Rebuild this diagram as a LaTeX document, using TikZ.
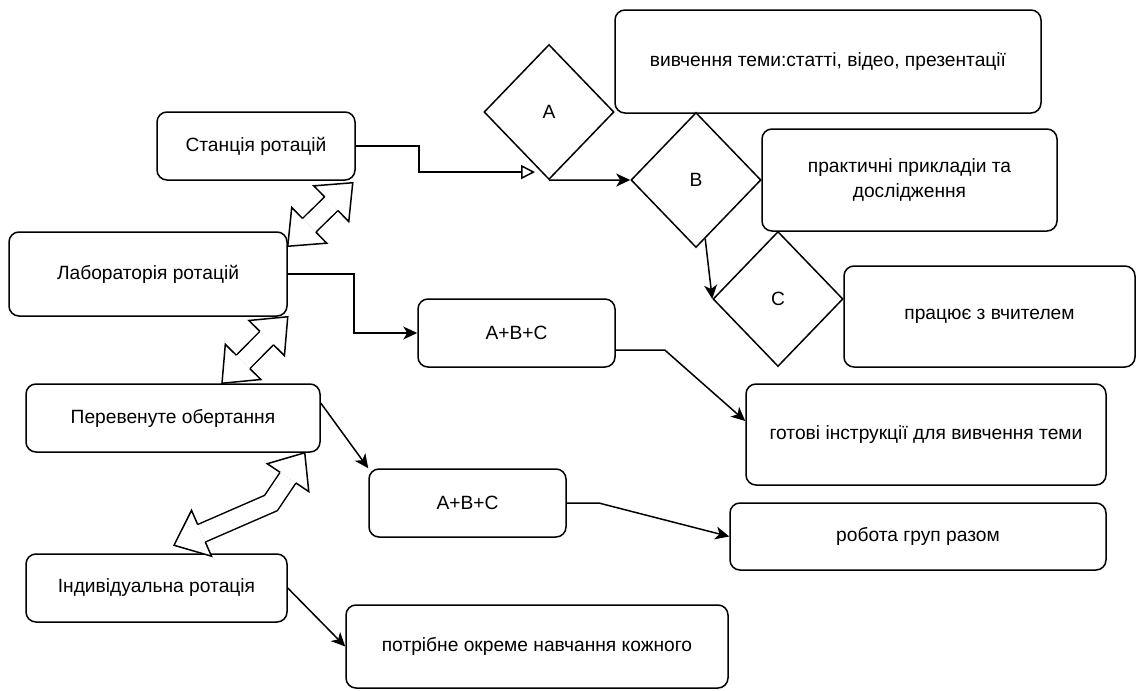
\documentclass[tikz,border=0pt]{standalone}
\usepackage{fontspec}
\setmainfont{Liberation Sans}
\usetikzlibrary{shapes.geometric,arrows.meta,calc}

\tikzset{
  box/.style={draw,rounded corners=5pt,align=center,inner sep=2pt},
  rhomb/.style={draw,diamond,inner sep=0pt,minimum width=65pt,minimum height=67.5pt},
  link/.style={-{Stealth[length=7pt,width=6.5pt,inset=2pt]}},
  hollowlink/.style={-{Triangle[open,length=7pt,width=7pt]}},
  twinshaft/.style={double,double distance=8.75pt},
}

% hollow two-headed arrow: tip, middle point, tip
\newcommand{\twinarrow}[3]{%
  \coordinate (ta) at ($(#1)!15pt!(#2)$);
  \coordinate (tb) at ($(#3)!15pt!(#2)$);
  \draw[twinshaft] (ta) -- (#2) -- (tb);
  \filldraw[fill=white] ($(ta)!4.75pt!90:(#1)$) -- ($(ta)!12.5pt!90:(#1)$) -- (#1)
    -- ($(ta)!12.5pt!-90:(#1)$) -- ($(ta)!4.75pt!-90:(#1)$);
  \filldraw[fill=white] ($(tb)!4.75pt!90:(#3)$) -- ($(tb)!12.5pt!90:(#3)$) -- (#3)
    -- ($(tb)!12.5pt!-90:(#3)$) -- ($(tb)!4.75pt!-90:(#3)$);
}

\begin{document}
\begin{tikzpicture}[x=0.5pt,y=-0.5pt,line width=0.75pt,
    every node/.style={font=\fontsize{9.6pt}{12.5pt}\selectfont}]
  \useasboundingbox (0,0) rectangle (1137,691);

  % rotation models
  \node[box,minimum width=99pt,minimum height=34pt] (stan) at (256,146) {Станція ротацій};
  \node[box,minimum width=139pt,minimum height=42pt] (lab) at (148,274) {Лабораторія ротацій};
  \node[box,minimum width=147pt,minimum height=34pt] (perev) at (173,418) {Перевенуте обертання};
  \node[box,minimum width=130.5pt,minimum height=34pt] (indiv) at (156.5,588) {Індивідуальна ротація};

  % stations
  \node[rhomb] (A) at (549,112) {A};
  \node[rhomb] (B) at (696,180) {B};
  \node[rhomb] (C) at (778,299) {C};
  \node[box,minimum width=213pt,minimum height=51.5pt] (study) at (828,61.5) {вивчення теми:статті, відео, презентації};
  \node[box,minimum width=147.5pt,minimum height=51pt] (practice) at (909.5,180) {практичні прикладіи та\\дослідження};
  \node[box,minimum width=145.5pt,minimum height=50.5pt] (teacher) at (989.5,316.5) {працює з вчителем};

  % other boxes
  \node[box,minimum width=98.5pt,minimum height=34pt] (abc1) at (516.5,333) {A+B+C};
  \node[box,minimum width=98.5pt,minimum height=34pt] (abc2) at (467.5,503) {A+B+C};
  \node[box,minimum width=180pt,minimum height=50.5pt] (instr) at (926,434.5) {готові інструкції для вивчення теми};
  \node[box,minimum width=188pt,minimum height=33.5pt] (groups) at (918,536.5) {робота груп разом};
  \node[box,minimum width=191pt,minimum height=41.5pt] (potr) at (537,646.5) {потрібне окреме навчання кожного};

  % connectors
  \coordinate (Ain) at ($(A.west)!0.88!(A.south)$);
  \draw[hollowlink,shorten >=3pt] (stan.east) -- ++(63,0) |- (Ain);
  \draw[link] (A.south) -- (B.west);
  \draw[link] ($(B.south)!0.14!(B.east)$) -- (C.west);
  \draw[link] (lab.east) -- ++(66,0) |- (abc1.west);
  \draw[link] ([yshift=-8.5pt]abc1.east) -- ++(49,0) -- ([yshift=6.75pt]instr.west);
  \draw[link] ([yshift=7.5pt]perev.east) -- (abc2.north west);
  \draw[link] (abc2.east) -- ++(32,0) -- (groups.west);
  \draw[link] (indiv.east) -- (potr.west);

  % two-headed arrows
  \coordinate (r1a) at ([xshift=-1.5pt,yshift=-1pt]stan.south east);
  \coordinate (r1b) at ([yshift=-7.5pt]lab.north east);
  \coordinate (r1m) at ($(r1a)!0.5!(r1b)$);
  \twinarrow{r1a}{r1m}{r1b}
  \coordinate (r2a) at (lab.south east);
  \coordinate (r2b) at ([xshift=24.5pt]perev.north);
  \coordinate (r2m) at ($(r2a)!0.5!(r2b)$);
  \twinarrow{r2a}{r2m}{r2b}
  \coordinate (r3a) at ([xshift=-8pt]perev.south east);
  \coordinate (r3m) at (271,503);
  \coordinate (r3b) at ([xshift=8.75pt,yshift=4pt]indiv.north);
  \twinarrow{r3a}{r3m}{r3b}
\end{tikzpicture}
\end{document}
